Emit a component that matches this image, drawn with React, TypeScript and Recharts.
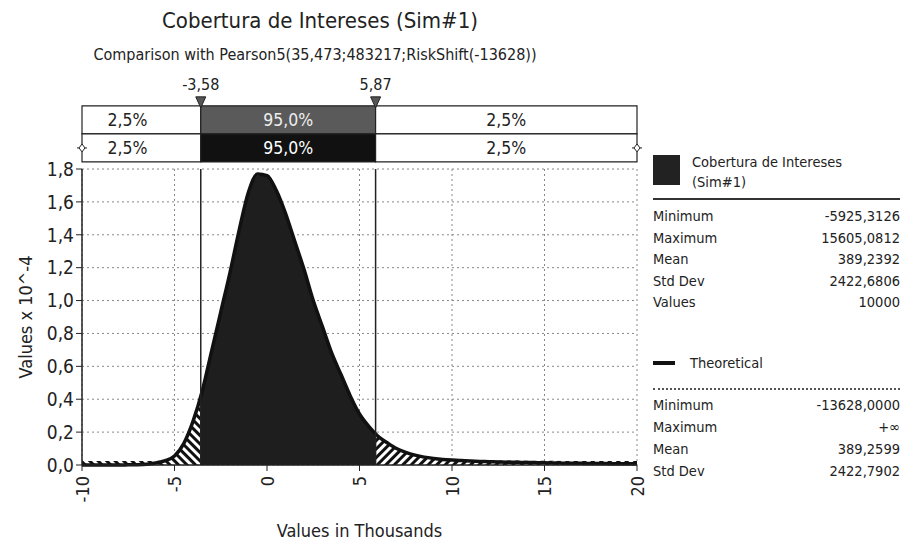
import {
  ComposedChart,
  Area,
  Line,
  XAxis,
  YAxis,
  CartesianGrid,
  ReferenceArea,
  ReferenceLine,
  ReferenceDot,
} from 'recharts';

const FONT = "'DejaVu Sans Condensed', 'DejaVu Sans', sans-serif";

// x values in thousands
const theoX = [
  -10, -9.5, -9, -8.5, -8, -7.5, -7, -6.5, -6, -5.5, -5, -4.5, -4, -3.5, -3, -2.5, -2, -1.5, -1, -0.5,
  0, 0.5, 1, 1.5, 2, 2.5, 3, 3.5, 4, 4.5, 5, 5.5, 6, 6.5, 7, 7.5, 8, 8.5, 9, 9.5,
  10, 10.5, 11, 11.5, 12, 12.5, 13, 13.5, 14, 14.5, 15, 15.5, 16, 16.5, 17, 17.5, 18, 18.5, 19, 19.5, 20,
];
// Pearson5 fitted density (x 10^-4)
const theoVals = [
  0, 0, 0, 0, 0, 0.001, 0.002, 0.005, 0.012, 0.026, 0.055, 0.13, 0.265, 0.45, 0.69, 0.93, 1.17, 1.43, 1.66, 1.77,
  1.76, 1.67, 1.53, 1.36, 1.19, 1.0, 0.84, 0.68, 0.55, 0.42, 0.31, 0.235, 0.175, 0.135, 0.1, 0.077, 0.06, 0.048, 0.04, 0.034,
  0.03, 0.027, 0.024, 0.022, 0.02, 0.018, 0.017, 0.016, 0.015, 0.014, 0.013, 0.012, 0.011, 0.011, 0.01, 0.009, 0.009, 0.008, 0.008, 0.007, 0.007,
];

// simulated histogram density (x 10^-4)
const histX = [
  -10, -9, -8, -7, -6, -5.5, -5, -4.5, -4, -3.58, -3.5, -3, -2.5, -2, -1.5, -1, -0.5,
  0, 0.5, 1, 1.5, 2, 2.5, 3, 3.5, 4, 4.5, 5, 5.5, 5.87, 6, 6.5, 7, 7.5, 8, 8.5, 9, 9.5,
  10, 11, 12, 13, 14, 15, 16, 17, 18, 19, 20,
];
const histVals = [
  0.025, 0.025, 0.025, 0.025, 0.025, 0.03, 0.06, 0.14, 0.27, 0.41, 0.44, 0.7, 0.94, 1.16, 1.42, 1.65, 1.76,
  1.77, 1.68, 1.52, 1.37, 1.18, 1.01, 0.83, 0.69, 0.54, 0.42, 0.31, 0.24, 0.195, 0.18, 0.14, 0.105, 0.08, 0.062, 0.05, 0.042, 0.036,
  0.032, 0.03, 0.028, 0.027, 0.026, 0.026, 0.025, 0.025, 0.025, 0.025, 0.025,
];

const LOW = -3.58;
const HIGH = 5.87;
const lowLabel = '-3,58';
const highLabel = '5,87';
const pctLeft = '2,5%';
const pctMid = '95,0%';
const pctRight = '2,5%';

const yTicks = [0, 0.2, 0.4, 0.6, 0.8, 1.0, 1.2, 1.4, 1.6, 1.8];
const xTicks = [-10, -5, 0, 5, 10, 15, 20];

const simStats = [
  ['Minimum', '-5925,3126'],
  ['Maximum', '15605,0812'],
  ['Mean', '389,2392'],
  ['Std Dev', '2422,6806'],
  ['Values', '10000'],
];
const theoStats = [
  ['Minimum', '-13628,0000'],
  ['Maximum', '+\u221e'],
  ['Mean', '389,2599'],
  ['Std Dev', '2422,7902'],
];

const theoRows = theoX.map((x, i) => ({ x, v: theoVals[i] }));
const histRows = histX.map((x, i) => ({ x, v: histVals[i] }));
const leftRows = histRows.filter(r => r.x <= LOW);
const midRows = histRows.filter(r => r.x >= LOW && r.x <= HIGH);
const rightRows = histRows.filter(r => r.x >= HIGH);

// percentile bar rows live just above the plot (in y-axis units)
const BAR_BOTTOM = 1.843;
const BAR_MID = 2.013;
const BAR_TOP = 2.184;

const fmt = (v: number) => v.toFixed(1).replace('.', ',');

// eslint-disable-next-line @typescript-eslint/no-explicit-any
const XTick = (props: any) => {
  const { x, y, payload } = props;
  return (
    <text
      x={x}
      y={y + 3}
      transform={`rotate(-90 ${x} ${y + 3})`}
      textAnchor="end"
      dominantBaseline="central"
      fontSize={18}
      fontFamily={FONT}
      fill="#222"
    >
      {payload.value}
    </text>
  );
};

// eslint-disable-next-line @typescript-eslint/no-explicit-any
const Marker = (props: any) => {
  const { cx, cy } = props;
  return <path d={`M${cx - 5},${cy - 9} L${cx + 5},${cy - 9} L${cx},${cy + 2} Z`} fill="#555" stroke="#222" />;
};

// eslint-disable-next-line @typescript-eslint/no-explicit-any
const EndMark = (props: any) => {
  const { cx, cy } = props;
  return (
    <g>
      <line x1={cx - 5} y1={cy} x2={cx + 5} y2={cy} stroke="#222" />
      <path d={`M${cx},${cy - 4} L${cx + 3},${cy} L${cx},${cy + 4} L${cx - 3},${cy} Z`} fill="#fff" stroke="#222" />
    </g>
  );
};

const pctLabel = (value: string, fill: string, dx = 0) => ({
  value,
  position: 'center' as const,
  fill,
  fontSize: 17.5,
  fontFamily: FONT,
  dx,
});

export default function App() {
  return (
    <div style={{ position: 'absolute', left: 0, top: 0, width: 904, height: 549, background: '#fff', fontFamily: FONT }}>
      <div style={{ position: 'absolute', left: 120, width: 400, top: 8, textAlign: 'center', fontSize: 22, color: '#222' }}>
        Cobertura de Intereses (Sim#1)
      </div>
      <div style={{ position: 'absolute', left: 45, width: 540, top: 45, textAlign: 'center', fontSize: 16, color: '#222' }}>
        Comparison with Pearson5(35,473;483217;RiskShift(-13628))
      </div>

      <ComposedChart width={904} height={549} margin={{ top: 169, right: 267, bottom: 24, left: 20 }}>
        <defs>
          <pattern id="hatchL" patternUnits="userSpaceOnUse" width="6" height="6" patternTransform="rotate(-45)">
            <rect width="6" height="6" fill="#fff" />
            <rect width="3" height="6" fill="#111" />
          </pattern>
          <pattern id="hatchR" patternUnits="userSpaceOnUse" width="6" height="6" patternTransform="rotate(45)">
            <rect width="6" height="6" fill="#fff" />
            <rect width="3" height="6" fill="#111" />
          </pattern>
        </defs>
        <CartesianGrid stroke="#888" strokeDasharray="2 3" />
        <XAxis
          type="number"
          dataKey="x"
          domain={[-10, 20]}
          ticks={xTicks}
          tick={<XTick />}
          tickLine={{ stroke: '#222' }}
          axisLine={{ stroke: '#222', strokeWidth: 1.5 }}
          height={60}
          label={{ value: 'Values in Thousands', position: 'insideBottom', offset: -12, fontSize: 18, fill: '#222', fontFamily: FONT }}
        />
        <YAxis
          type="number"
          domain={[0, 1.8]}
          ticks={yTicks}
          tickFormatter={fmt}
          width={62}
          tick={{ fontSize: 19, fill: '#222', fontFamily: FONT }}
          tickLine={{ stroke: '#222' }}
          axisLine={{ stroke: '#222', strokeWidth: 1.5 }}
          label={{ value: 'Values x 10^-4', angle: -90, position: 'insideLeft', offset: 6, fontSize: 18, fill: '#222', fontFamily: FONT, style: { textAnchor: 'middle' } }}
        />

        <Area data={leftRows} dataKey="v" type="monotone" stroke="none" fill="url(#hatchL)" fillOpacity={1} isAnimationActive={false} />
        <Area data={rightRows} dataKey="v" type="monotone" stroke="none" fill="url(#hatchR)" fillOpacity={1} isAnimationActive={false} />
        <Area data={midRows} dataKey="v" type="monotone" stroke="#ddd" strokeDasharray="2 6" strokeWidth={1} fill="#1e1e1e" fillOpacity={1} isAnimationActive={false} />
        <Line data={theoRows} dataKey="v" type="monotone" stroke="#111" strokeWidth={3.5} dot={false} isAnimationActive={false} />

        <ReferenceLine x={LOW} stroke="#222" strokeWidth={1.5} />
        <ReferenceLine x={HIGH} stroke="#222" strokeWidth={1.5} />

        <ReferenceArea x1={-10} x2={LOW} y1={BAR_MID} y2={BAR_TOP} ifOverflow="visible" fill="#fff" fillOpacity={1} stroke="#222" strokeWidth={1.2} label={pctLabel(pctLeft, '#222', -14)} />
        <ReferenceArea x1={LOW} x2={HIGH} y1={BAR_MID} y2={BAR_TOP} ifOverflow="visible" fill="#5a5a5a" fillOpacity={1} stroke="#222" strokeWidth={1.2} label={pctLabel(pctMid, '#eee')} />
        <ReferenceArea x1={HIGH} x2={20} y1={BAR_MID} y2={BAR_TOP} ifOverflow="visible" fill="#fff" fillOpacity={1} stroke="#222" strokeWidth={1.2} label={pctLabel(pctRight, '#222')} />
        <ReferenceArea x1={-10} x2={LOW} y1={BAR_BOTTOM} y2={BAR_MID} ifOverflow="visible" fill="#fff" fillOpacity={1} stroke="#222" strokeWidth={1.2} label={pctLabel(pctLeft, '#222', -14)} />
        <ReferenceArea x1={LOW} x2={HIGH} y1={BAR_BOTTOM} y2={BAR_MID} ifOverflow="visible" fill="#111" fillOpacity={1} stroke="#222" strokeWidth={1.2} label={pctLabel(pctMid, '#fff')} />
        <ReferenceArea x1={HIGH} x2={20} y1={BAR_BOTTOM} y2={BAR_MID} ifOverflow="visible" fill="#fff" fillOpacity={1} stroke="#222" strokeWidth={1.2} label={pctLabel(pctRight, '#222')} />

        <ReferenceDot x={-10} y={(BAR_BOTTOM + BAR_MID) / 2} ifOverflow="visible" shape={<EndMark />} />
        <ReferenceDot x={20} y={(BAR_BOTTOM + BAR_MID) / 2} ifOverflow="visible" shape={<EndMark />} />
        <ReferenceDot x={LOW} y={BAR_TOP} ifOverflow="visible" shape={<Marker />} label={{ value: lowLabel, position: 'top', offset: 6, fontSize: 16, fill: '#222', fontFamily: FONT }} />
        <ReferenceDot x={HIGH} y={BAR_TOP} ifOverflow="visible" shape={<Marker />} label={{ value: highLabel, position: 'top', offset: 6, fontSize: 16, fill: '#222', fontFamily: FONT }} />
      </ComposedChart>

      <div style={{ position: 'absolute', left: 653, top: 155, width: 247, fontSize: 14.5, color: '#222' }}>
        <div style={{ display: 'flex', alignItems: 'flex-start', height: 38 }}>
          <div style={{ width: 27, height: 30, background: '#222' }} />
          <div style={{ marginLeft: 12, lineHeight: '20px', marginTop: -3 }}>
            Cobertura de Intereses<br />(Sim#1)
          </div>
        </div>
        <div style={{ borderTop: '2px solid #333', marginTop: 5, paddingTop: 6 }}>
          {simStats.map(([k, v]) => (
            <div key={k} style={{ display: 'flex', justifyContent: 'space-between', height: 21.5, lineHeight: '21.5px' }}>
              <span>{k}</span>
              <span>{v}</span>
            </div>
          ))}
        </div>
      </div>

      <div style={{ position: 'absolute', left: 653, top: 352, width: 247, fontSize: 14.5, color: '#222' }}>
        <div style={{ display: 'flex', alignItems: 'center', height: 22 }}>
          <div style={{ width: 22, height: 4, background: '#111' }} />
          <div style={{ marginLeft: 15 }}>Theoretical</div>
        </div>
        <div style={{ borderTop: '2px dotted #555', marginTop: 14, paddingTop: 4 }}>
          {theoStats.map(([k, v]) => (
            <div key={k} style={{ display: 'flex', justifyContent: 'space-between', height: 22, lineHeight: '22px' }}>
              <span>{k}</span>
              <span>{v}</span>
            </div>
          ))}
        </div>
      </div>
    </div>
  );
}
